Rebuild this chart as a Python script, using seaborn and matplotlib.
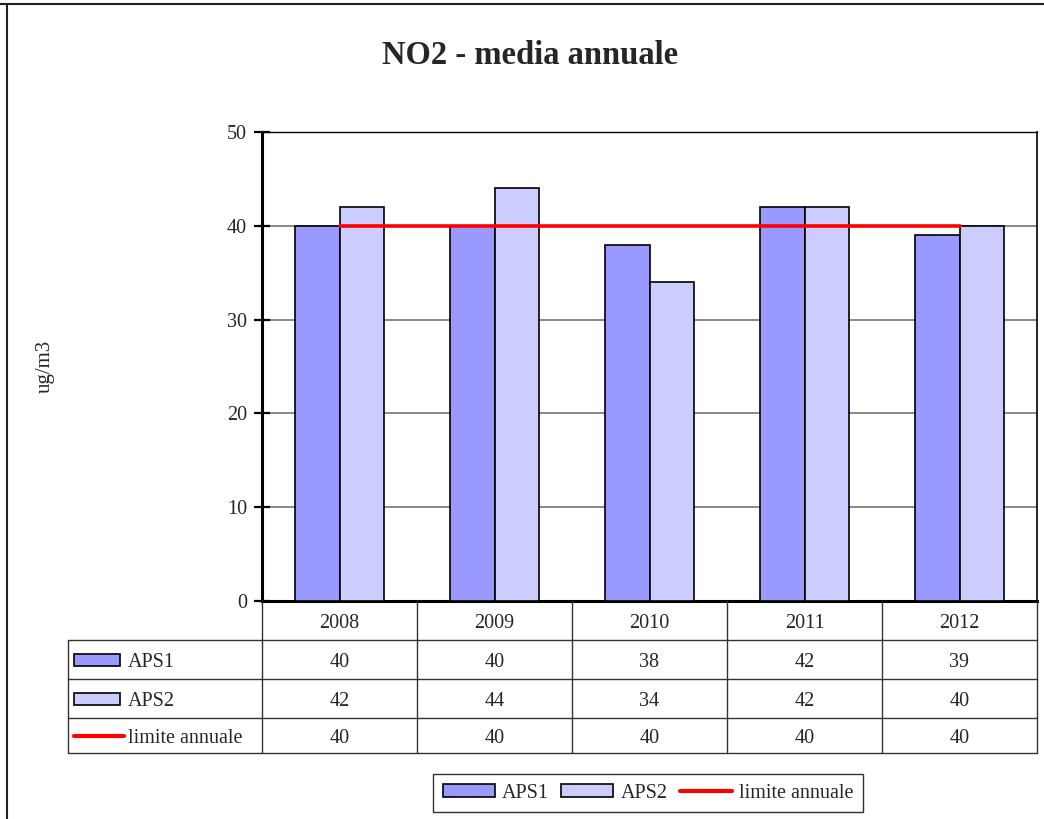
import numpy as np
import pandas as pd
import matplotlib
matplotlib.use("Agg")
import matplotlib.pyplot as plt
import matplotlib.transforms as mtransforms
from matplotlib.patches import Rectangle, Patch
from matplotlib.lines import Line2D
import seaborn as sns

# ---- data ----
years = ["2008", "2009", "2010", "2011", "2012"]
aps1 = [40, 40, 38, 42, 39]
aps2 = [42, 44, 34, 42, 40]
limite = [40, 40, 40, 40, 40]
series_names = ["APS1", "APS2", "limite annuale"]
colors = {"APS1": "#9999FF", "APS2": "#CCCCFF"}
line_color = "#FF0000"

sns.set_theme(style="white")
plt.rcParams["font.family"] = ["Liberation Serif", "DejaVu Serif"]

W, H = 1044, 819
fig = plt.figure(figsize=(W / 100, H / 100), dpi=100)


def fx(x):
    return x / W


def fy(y):
    return 1 - y / H


# plot area
ax_l, ax_r, ax_t, ax_b = 262, 1037, 132, 601
ax = fig.add_axes([fx(ax_l), fy(ax_b), fx(ax_r - ax_l), (ax_b - ax_t) / H])

df = pd.DataFrame({
    "year": years * 2,
    "series": ["APS1"] * len(years) + ["APS2"] * len(years),
    "value": aps1 + aps2,
})

sns.barplot(data=df, x="year", y="value", hue="series", order=years,
            hue_order=["APS1", "APS2"], palette=colors, width=0.57,
            edgecolor="black", linewidth=1.2, saturation=1, legend=False,
            ax=ax, zorder=3)

sns.lineplot(x=np.arange(len(years)), y=limite, color=line_color, lw=2.6,
             ax=ax, legend=False, zorder=4)

ax.set_xlim(-0.5, len(years) - 0.5)
ax.set_ylim(0, 50)
ax.set_yticks([0, 10, 20, 30, 40, 50])
ax.set_yticklabels(["0", "10", "20", "30", "40", "50"], fontsize=14.5)
ax.set_xticks([])
ax.set_xlabel("")
ax.set_ylabel("")
ax.yaxis.grid(True, color="#6a6a6a", lw=1.1, zorder=0)
ax.set_axisbelow(True)
ax.tick_params(axis="y", direction="inout", length=11.5, width=1.6,
               color="black", pad=5, left=True)
for side, lw in [("left", 2.2), ("bottom", 2.2), ("top", 1.0), ("right", 1.2)]:
    ax.spines[side].set_visible(True)
    ax.spines[side].set_color("black")
    ax.spines[side].set_linewidth(lw)

# title and y label
fig.text(fx(530), fy(55), "NO2 - media annuale", ha="center", va="center",
         fontsize=23.5, fontweight="bold")
fig.text(fx(45), fy(366), "ug/m3", ha="center", va="center", rotation=90,
         fontsize=15)

# ---- data table below the axis ----
blend = mtransforms.blended_transform_factory(ax.transData, fig.transFigure)
row_tops = [601, 640, 679, 718]
row_bottom = 753
tab_left = 68
edges = np.arange(len(years) + 1) - 0.5
line_kw = dict(color="#333333", lw=1.0)
text_shift = 3  # optical centring of serif digits within a row

# horizontal rules
for y in row_tops[1:] + [row_bottom]:
    fig.add_artist(Line2D([fx(tab_left), fx(ax_r)], [fy(y), fy(y)],
                          transform=fig.transFigure, **line_kw))
# vertical rules on category boundaries
for e in edges:
    fig.add_artist(Line2D([e, e], [fy(ax_b), fy(row_bottom)],
                          transform=blend, **line_kw))
fig.add_artist(Line2D([fx(tab_left), fx(tab_left)],
                      [fy(row_tops[1]), fy(row_bottom)],
                      transform=fig.transFigure, **line_kw))

# header row with years
for i, yr in enumerate(years):
    fig.text(i, fy((row_tops[0] + row_tops[1]) / 2 + text_shift), yr,
             transform=blend, ha="center", va="center", fontsize=14.5)

rows = [aps1, aps2, limite]
for r, (name, vals) in enumerate(zip(series_names, rows)):
    top = row_tops[r + 1]
    bot = row_tops[r + 2] if r + 2 < len(row_tops) else row_bottom
    yc = (top + bot) / 2
    for i, v in enumerate(vals):
        fig.text(i, fy(yc + text_shift), str(v), transform=blend,
                 ha="center", va="center", fontsize=14.5)
    # row key
    if name in colors:
        fig.add_artist(Rectangle((fx(74), fy(yc + 6)), fx(46), 12 / H,
                                 transform=fig.transFigure,
                                 facecolor=colors[name], edgecolor="black",
                                 lw=1.2))
    else:
        fig.add_artist(Line2D([fx(74), fx(124)], [fy(yc), fy(yc)],
                              transform=fig.transFigure, color=line_color,
                              lw=3.0, solid_capstyle="round"))
    fig.text(fx(128), fy(yc + text_shift), name, ha="left", va="center",
             fontsize=14.5)

# ---- legend ----
handles = [
    Patch(facecolor=colors["APS1"], edgecolor="black", lw=1.2),
    Patch(facecolor=colors["APS2"], edgecolor="black", lw=1.2),
    Line2D([0], [0], color=line_color, lw=3.0),
]
leg = fig.legend(handles, series_names, loc="center",
                 bbox_to_anchor=(fx(648), fy(793)), ncol=3, fontsize=14.5,
                 frameon=True, fancybox=False, edgecolor="black",
                 handlelength=2.6, handleheight=0.6, handletextpad=0.35,
                 columnspacing=0.6, borderpad=0.45, borderaxespad=0)
leg.get_frame().set_linewidth(1.0)

# outer frame of the chart
fig.add_artist(Line2D([0, 1], [fy(4), fy(4)], transform=fig.transFigure,
                      color="#222222", lw=1.5))
fig.add_artist(Line2D([fx(7), fx(7)], [0, fy(4)], transform=fig.transFigure,
                      color="#222222", lw=1.5))

fig.savefig("out.png", dpi=100)
